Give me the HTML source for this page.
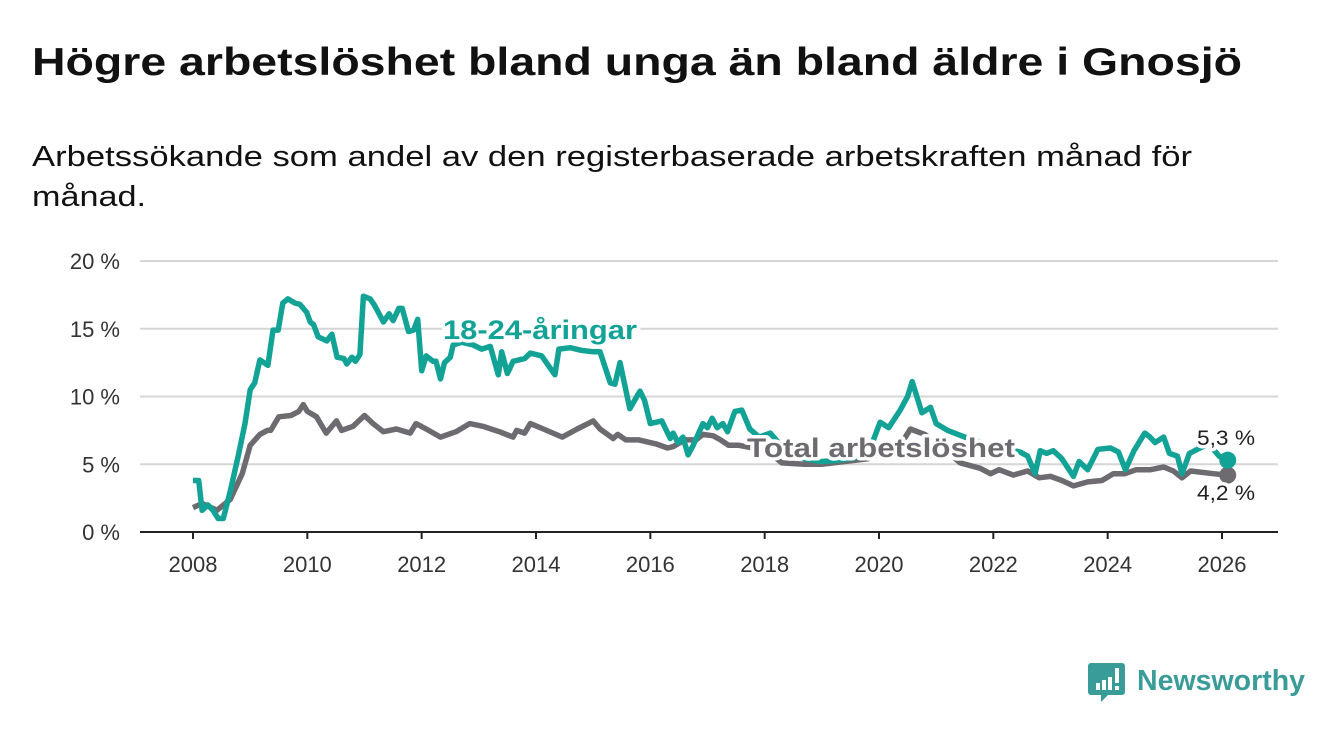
<!DOCTYPE html>
<html><head><meta charset="utf-8">
<style>
html,body{margin:0;padding:0;background:#fff;}
body{width:1340px;height:734px;overflow:hidden;font-family:"Liberation Sans",sans-serif;}
svg text{font-family:"Liberation Sans",sans-serif;}
</style></head>
<body>
<svg id="chart" width="1340" height="734" viewBox="0 0 1340 734">
  <text x="32" y="75" font-size="39" font-weight="bold" fill="#111" textLength="1210" lengthAdjust="spacingAndGlyphs">Högre arbetslöshet bland unga än bland äldre i Gnosjö</text>
  <text x="32" y="166" font-size="29" fill="#111" textLength="1160" lengthAdjust="spacingAndGlyphs">Arbetssökande som andel av den registerbaserade arbetskraften månad för</text>
  <text x="32" y="206" font-size="29" fill="#111" textLength="114" lengthAdjust="spacingAndGlyphs">månad.</text>
  <g id="grid"></g>
  <g id="lines"></g>
  <g id="labels"></g>
  <g>
    <path d="M1091 663 h31 a3 3 0 0 1 3 3 v26 a3 3 0 0 1 -3 3 h-14 l-7 7 v-7 h-10 a3 3 0 0 1 -3 -3 v-26 a3 3 0 0 1 3 -3z" fill="#3a9c98"/>
    <rect x="1096" y="683" width="4" height="7" fill="#fff"/>
    <rect x="1102" y="680" width="4" height="10" fill="#fff"/>
    <rect x="1108" y="677" width="4" height="13" fill="#fff"/>
    <rect x="1115" y="668" width="4" height="15" fill="#fff"/>
    <rect x="1115" y="686" width="4" height="4" fill="#fff"/>
    <text x="1137" y="690" font-size="29" font-weight="bold" fill="#3a9c98" textLength="168" lengthAdjust="spacingAndGlyphs">Newsworthy</text>
  </g>
</svg>
<script>
const yTicks = [0, 5, 10, 15, 20];
const xTicks = [2008, 2010, 2012, 2014, 2016, 2018, 2020, 2022, 2024, 2026];
const youthDates = [2008.0,2008.1,2008.16,2008.26,2008.35,2008.44,2008.53,2008.65,2008.79,2008.91,2009.0,2009.08,2009.17,2009.31,2009.4,2009.49,2009.57,2009.66,2009.78,2009.87,2009.99,2010.05,2010.11,2010.19,2010.34,2010.43,2010.52,2010.64,2010.69,2010.78,2010.84,2010.92,2010.98,2011.1,2011.18,2011.33,2011.43,2011.5,2011.6,2011.66,2011.77,2011.86,2011.93,2012.0,2012.08,2012.2,2012.25,2012.33,2012.4,2012.5,2012.55,2012.7,2012.9,2013.05,2013.2,2013.34,2013.4,2013.5,2013.6,2013.8,2013.9,2014.1,2014.33,2014.4,2014.6,2014.8,2015.0,2015.12,2015.3,2015.38,2015.47,2015.64,2015.82,2015.9,2016.0,2016.2,2016.35,2016.4,2016.48,2016.57,2016.66,2016.75,2016.92,2017.0,2017.08,2017.17,2017.27,2017.35,2017.48,2017.6,2017.74,2017.9,2018.1,2018.4,2018.7,2019.0,2019.3,2019.6,2019.85,2020.02,2020.17,2020.37,2020.5,2020.58,2020.75,2020.9,2021.0,2021.2,2021.5,2021.8,2022.0,2022.2,2022.47,2022.6,2022.73,2022.82,2022.93,2023.05,2023.2,2023.4,2023.5,2023.65,2023.83,2024.05,2024.19,2024.31,2024.46,2024.65,2024.74,2024.83,2024.98,2025.08,2025.22,2025.3,2025.43,2025.57,2025.77,2025.95,2026.1];
const youthValues = [3.8,3.8,1.6,2.0,1.6,1.0,1.0,3.0,5.6,8.0,10.5,11.0,12.7,12.3,14.9,14.9,16.9,17.2,16.9,16.8,16.2,15.5,15.3,14.4,14.1,14.6,12.9,12.8,12.4,12.9,12.6,13.1,17.4,17.2,16.7,15.5,16.1,15.6,16.5,16.5,14.8,14.9,15.7,11.9,13.0,12.6,12.6,11.3,12.5,12.9,13.8,14.0,13.8,13.5,13.7,11.6,13.3,11.7,12.6,12.8,13.2,13.0,11.6,13.5,13.6,13.4,13.3,13.3,11.0,10.9,12.5,9.1,10.4,9.7,8.0,8.2,6.9,7.3,6.6,7.0,5.7,6.4,8.0,7.7,8.4,7.7,8.0,7.4,8.9,9.0,7.6,7.0,7.3,5.8,5.4,5.2,5.3,5.5,6.2,8.1,7.7,9.0,10.0,11.1,8.8,9.2,8.0,7.5,7.0,6.6,6.0,6.2,5.9,5.6,4.3,6.0,5.8,6.0,5.4,4.1,5.2,4.6,6.1,6.2,5.9,4.6,6.0,7.3,7.0,6.6,7.0,5.8,5.6,4.3,5.8,6.1,6.5,5.6,5.3];
const totalDates = [2008.0,2008.16,2008.42,2008.65,2008.86,2009.0,2009.17,2009.3,2009.36,2009.5,2009.71,2009.85,2009.93,2010.0,2010.16,2010.33,2010.51,2010.6,2010.8,2011.0,2011.15,2011.33,2011.56,2011.8,2011.9,2012.08,2012.33,2012.6,2012.84,2013.07,2013.36,2013.6,2013.66,2013.8,2013.9,2014.13,2014.46,2014.72,2015.0,2015.12,2015.35,2015.43,2015.57,2015.8,2016.1,2016.3,2016.4,2016.6,2016.8,2016.92,2017.1,2017.23,2017.37,2017.55,2017.8,2018.1,2018.3,2018.7,2019.0,2019.4,2019.8,2020.1,2020.4,2020.55,2020.8,2021.1,2021.42,2021.77,2021.95,2022.1,2022.35,2022.6,2022.8,2023.0,2023.2,2023.4,2023.65,2023.9,2024.1,2024.3,2024.5,2024.75,2024.98,2025.15,2025.3,2025.45,2025.85,2026.1];
const totalValues = [1.8,2.1,1.6,2.4,4.3,6.4,7.2,7.5,7.5,8.5,8.6,8.9,9.4,8.9,8.5,7.3,8.2,7.5,7.8,8.6,8.0,7.4,7.6,7.3,8.0,7.6,7.0,7.4,8.0,7.8,7.4,7.0,7.5,7.3,8.0,7.6,7.0,7.6,8.2,7.6,6.9,7.2,6.8,6.8,6.5,6.2,6.3,6.8,6.8,7.2,7.1,6.8,6.4,6.4,6.2,5.8,5.1,5.0,5.0,5.2,5.4,5.9,6.6,7.6,7.2,6.3,5.1,4.7,4.3,4.6,4.2,4.5,4.0,4.1,3.8,3.4,3.7,3.8,4.3,4.3,4.6,4.6,4.8,4.5,4.0,4.5,4.3,4.2];

const NS='http://www.w3.org/2000/svg';
const X0=193, X1=1222, Y0=532, Y20=261;
function xs(yr){return X0+(yr-2008)*(X1-X0)/18;}
function ys(v){return Y0-(v/20)*(Y0-Y20);}
function mk(tag,attrs,parent){const e=document.createElementNS(NS,tag);for(const k in attrs)e.setAttribute(k,attrs[k]);parent.appendChild(e);return e;}
const grid=document.getElementById('grid');
yTicks.forEach(v=>{
  const y=ys(v);
  if(v>0){const l=mk('line',{x1:140,x2:1278,y1:y,y2:y,stroke:'#d6d6d6','stroke-width':2},grid);
  
  }
  const t=mk('text',{x:120,y:y+8,'font-size':22,fill:'#333','text-anchor':'end'},grid);
  t.textContent=v+' %';
  
  
});
const ax=mk('line',{x1:140,x2:1278,y1:Y0,y2:Y0,stroke:'#222','stroke-width':2},grid);


xTicks.forEach(yr=>{
  const x=xs(yr);
  const tk=mk('line',{x1:x,x2:x,y1:Y0,y2:Y0+7,stroke:'#222','stroke-width':2},grid);
  
  
  const t=mk('text',{x:x,y:572,'font-size':22,fill:'#333','text-anchor':'middle'},grid);
  t.textContent=yr;
  
  
});
const lines=document.getElementById('lines');
function path(d,v){return d.map((yr,i)=>(i?'L':'M')+xs(yr).toFixed(1)+' '+ys(v[i]).toFixed(1)).join(' ');}
const tl=mk('path',{d:path(totalDates,totalValues),fill:'none',stroke:'#6d6a70','stroke-width':5.5,'stroke-linejoin':'round'},lines);


const yl=mk('path',{d:path(youthDates,youthValues),fill:'none',stroke:'#12a396','stroke-width':5.5,'stroke-linejoin':'round'},lines);


const lt=totalDates.length-1, ly=youthDates.length-1;
const td=mk('circle',{cx:xs(totalDates[lt]),cy:ys(totalValues[lt]),r:8.5,fill:'#6d6a70'},lines);


const yd=mk('circle',{cx:xs(youthDates[ly]),cy:ys(youthValues[ly]),r:8.5,fill:'#12a396'},lines);


const labels=document.getElementById('labels');
function lab(txt,x,y,size,fill,bold,name,len){
  const a={x:x,y:y,'font-size':size,fill:fill,stroke:'#fff','stroke-width':7,'paint-order':'stroke','stroke-linejoin':'round'};
  if(bold)a['font-weight']='bold';
  if(len){a.textLength=len;a.lengthAdjust='spacingAndGlyphs';}
  const t=mk('text',a,labels);t.textContent=txt;
  
  
}
lab('18-24-åringar',443,339,27,'#12a396',true,'youth-series-label',194);
lab('Total arbetslöshet',747,457,27,'#6d6a70',true,'total-series-label',268);
lab('5,3 %',1197,445,21,'#222',false,'youth-end-value',58);
lab('4,2 %',1197,500,21,'#222',false,'total-end-value',58);
</script>
</body></html>
